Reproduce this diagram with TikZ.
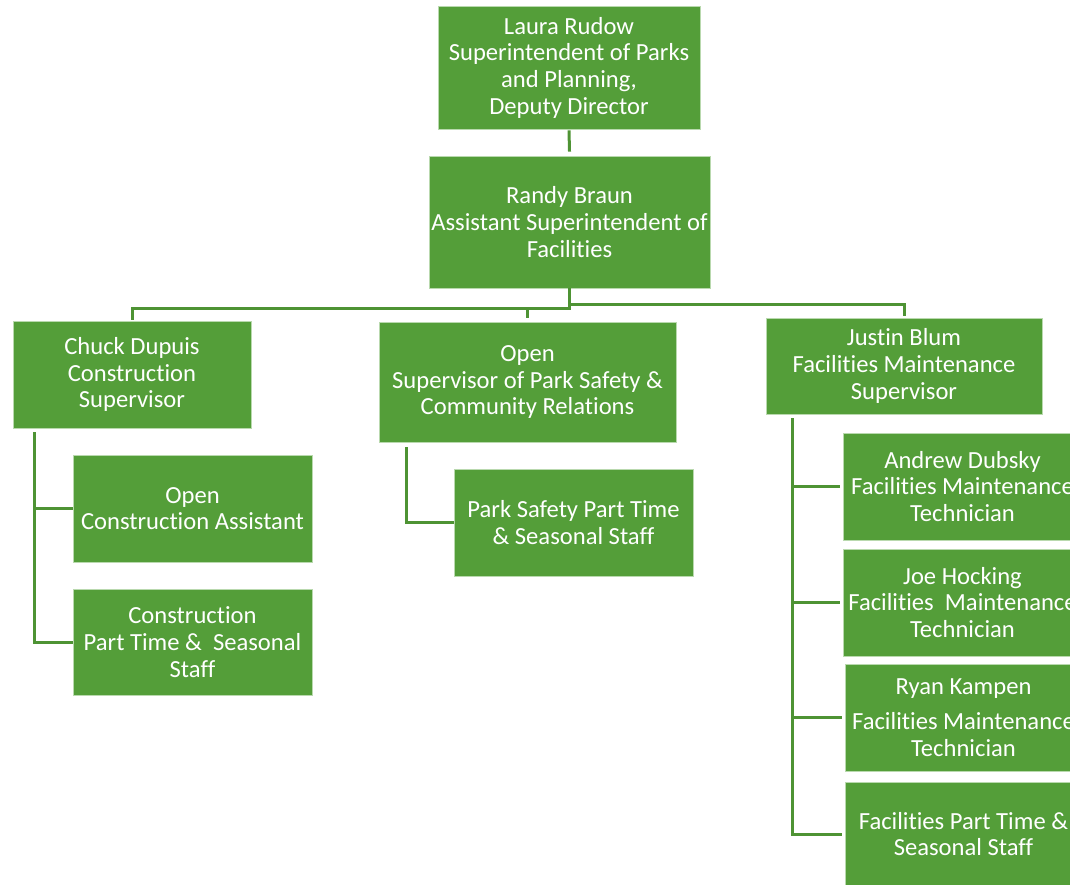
\documentclass[tikz,border=0pt]{standalone}
\usepackage{fontspec}
\setmainfont{Carlito}[RawFeature=-liga]
\usepackage{xcolor}
\usetikzlibrary{positioning}
\definecolor{OrgGreen}{HTML}{549E39}
\definecolor{OrgLine}{HTML}{4E9334}
\definecolor{OrgEdge}{HTML}{B9D9AE}
\tikzset{
  orgbox/.style={
    draw=OrgEdge,
    fill=OrgGreen,
    line width=0.8pt,
    text=white,
    align=center,
    inner sep=0pt,
    font=\fontsize{24.6}{26.7}\selectfont
  },
  orgline/.style={line width=3pt, draw=OrgLine}
}
\begin{document}
\begin{tikzpicture}[x=1pt,y=-1pt]
  \useasboundingbox (0,0) rectangle (1070,885);
  % top of the chart
  \node[orgbox, minimum width=262pt, minimum height=123pt] (laura) at (569,67.5)
    {Laura Rudow\\Superintendent of Parks\\and Planning,\\Deputy Director};
  \node[orgbox, minimum width=281pt, minimum height=132pt] (randy) at (569.5,222)
    {Randy Braun\\Assistant Superintendent of\\Facilities};
  % supervisors
  \node[orgbox, minimum width=238pt, minimum height=107pt] (chuck) at (132,374.5)
    {Chuck Dupuis\\Construction\\Supervisor};
  \node[orgbox, minimum width=297pt, minimum height=120pt] (opensup) at (527.5,382)
    {Open\\Supervisor of Park Safety \&\\Community Relations};
  \node[orgbox, minimum width=276pt, minimum height=96pt] (justin) at (904,366)
    {Justin Blum\\Facilities Maintenance\\Supervisor};
  % construction staff
  \node[orgbox, minimum width=239pt, minimum height=107pt] (conassist) at (192.5,508.5)
    {Open\\Construction Assistant};
  \node[orgbox, minimum width=239pt, minimum height=106pt] (constaff) at (192.5,642)
    {Construction\\Part Time \&\ \ Seasonal\\Staff};
  % park safety staff
  \node[orgbox, minimum width=239pt, minimum height=107pt] (safestaff) at (573.5,522.5)
    {Park Safety Part Time\\\& Seasonal Staff};
  % facilities staff
  \node[orgbox, minimum width=239pt, minimum height=107pt] (andrew) at (962.5,486.5)
    {Andrew Dubsky\\Facilities Maintenance\\Technician};
  \node[orgbox, minimum width=239pt, minimum height=107pt] (joe) at (962.5,602.5)
    {Joe Hocking\\Facilities\ \ Maintenance\\Technician};
  \node[orgbox, minimum width=237pt, minimum height=107pt] (ryan) at (963.5,717.5)
    {Ryan Kampen\\[9pt]Facilities Maintenance\\Technician};
  \node[orgbox, minimum width=237pt, minimum height=104pt] (facstaff) at (963.5,834)
    {Facilities Part Time \&\\Seasonal Staff};
  % connectors
  \draw[orgline] ([yshift=-1pt]laura.south) -- ([yshift=4pt]randy.north);
  \draw[orgline] (randy.south) -- ++(0,20) -| ([yshift=1pt]chuck.north);
  \draw[orgline] (randy.south) ++(0,20) -| ([yshift=4pt]opensup.north);
  \draw[orgline] (randy.south) -- ++(0,16) -| ([yshift=2pt]justin.north);
  \draw[orgline] ([xshift=22pt,yshift=-4pt]chuck.south west) |- (conassist.west);
  \draw[orgline] ([xshift=22pt,yshift=-4pt]chuck.south west) |- (constaff.west);
  \draw[orgline] ([xshift=28pt,yshift=-5pt]opensup.south west) |- (safestaff.west);
  \foreach \staff in {andrew,joe,ryan,facstaff}
    \draw[orgline] ([xshift=27pt,yshift=-4pt]justin.south west) |- ([xshift=-3pt]\staff.west);
\end{tikzpicture}
\end{document}
